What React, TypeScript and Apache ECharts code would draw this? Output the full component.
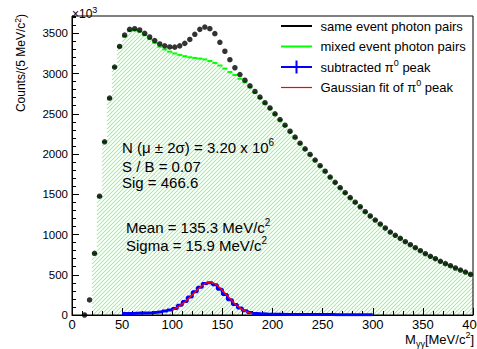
import React, { useEffect, useRef } from 'react';
import * as echarts from 'echarts';

const FONT = '"Liberation Sans", Arial, Helvetica, sans-serif';
const BIN_WIDTH = 5;

// same event photon pairs (x10^3 counts), bins starting at 10 MeV
const SAME_START = 10;
const sameEvent = [
  0, 187, 767, 1476, 2152, 2695, 3081, 3337, 3478, 3549,
  3557, 3541, 3500, 3454, 3410, 3368, 3344, 3331, 3328, 3344,
  3375, 3424, 3488, 3549, 3578, 3558, 3496, 3388, 3277, 3172,
  3072, 2988, 2917, 2847, 2778, 2708, 2638, 2572, 2500, 2428,
  2358, 2283, 2210, 2135, 2064, 1995, 1925, 1855, 1787, 1714,
  1648, 1582, 1520, 1458, 1402, 1345, 1283, 1230, 1180, 1130,
  1081, 1031, 990, 952, 911, 874, 836, 799, 762, 729,
  700, 667, 638, 612, 584, 559, 534, 506,
];

// mixed event photon pairs, bins starting at 20 MeV
const MIXED_START = 20;
const mixedEvent = [
  765, 1474, 2150, 2690, 3078, 3333, 3462, 3530, 3537, 3520,
  3476, 3428, 3382, 3334, 3300, 3272, 3250, 3232, 3216, 3202,
  3194, 3186, 3176, 3156, 3132, 3100, 3062, 3020, 2982, 2935,
  2890, 2830, 2762, 2695, 2628, 2565, 2494, 2421, 2351, 2277,
  2203, 2129, 2058, 1989, 1919, 1850, 1782, 1709, 1644, 1578,
  1516, 1455, 1399, 1342, 1280, 1227, 1177, 1128, 1079, 1029,
  988, 951, 910, 873, 835, 798, 761, 728, 699, 666,
  637, 611, 583, 558, 533, 505,
];

// subtracted pi0 peak, bins starting at 50 MeV
const SUB_START = 50;
const subtracted = [
  18, 20, 22, 24, 26, 29, 33, 40, 50, 62,
  82, 122, 168, 225, 288, 346, 392, 402, 375, 320,
  255, 190, 132, 86, 52, 30, 20, 14, 11, 9,
  8, 8, 7, 7, 6, 6, 6, 5, 5, 5,
  5, 5, 4, 4, 4, 4, 4, 4, 4, 4,
];

// Gaussian fit curve
const fitX = [100, 105, 110, 115, 120, 125, 130, 135, 140, 145, 150, 155, 160, 165, 170, 175, 180];
const fitY = [62, 95, 138, 190, 250, 313, 366, 400, 398, 365, 305, 240, 172, 112, 68, 38, 18];

const xTickLabels = [0, 50, 100, 150, 200, 250, 300, 350, 400];
const yTickLabels = [0, 500, 1000, 1500, 2000, 2500, 3000, 3500];

const legendItems = [
  { label: 'same event photon pairs', kind: 'same' },
  { label: 'mixed event photon pairs', kind: 'mixed' },
  { label: 'subtracted π0 peak', kind: 'sub' },
  { label: 'Gaussian fit of π0 peak', kind: 'fit' },
];

const statLines = [
  '{n|N (μ ± 2σ) = 3.20 x 10}{s|6}',
  '{n|S / B = 0.07}',
  '{n|Sig = 466.6}',
];
const fitLines = [
  '{n|Mean = 135.3 MeV/c}{s|2}',
  '{n|Sigma = 15.9 MeV/c}{s|2}',
];

const X_MIN = 0;
const X_MAX = 400;
const Y_MIN = 0;
const Y_MAX = 3715;

function richStyle(size: number, supSize: number, lh: number) {
  return {
    n: { fontSize: size, fontFamily: FONT, fill: '#000', lineHeight: lh, verticalAlign: 'middle' },
    s: { fontSize: supSize, fontFamily: FONT, fill: '#000', lineHeight: Math.round(lh / 2), verticalAlign: 'top' },
    b: { fontSize: supSize, fontFamily: FONT, fill: '#000', lineHeight: Math.round(lh / 2), verticalAlign: 'bottom' },
  };
}

const HATCH_STEP = 4;
const HATCH_FILL = '#9ce99c';
const HATCH_THICK = 1.3;

export default function App() {
  const ref = useRef<HTMLDivElement>(null);

  useEffect(() => {
    if (!ref.current) return;
    const chart = echarts.init(ref.current, null, { renderer: 'svg' });

    const samePts = sameEvent.map((v, i) => [SAME_START + BIN_WIDTH * (i + 0.5), v]);
    const mixedBins = mixedEvent.map((v, i) => [MIXED_START + BIN_WIDTH * i, MIXED_START + BIN_WIDTH * (i + 1), v]);
    const subEdges = subtracted.map((v, i) => [SUB_START + BIN_WIDTH * i, v]);
    subEdges.push([SUB_START + BIN_WIDTH * subtracted.length, subtracted[subtracted.length - 1]]);
    const fitPts = fitX.map((x, i) => [x, fitY[i]]);

    const legendRowsY = [26, 46.5, 67, 87.5];
    const baseGraphics: any[] = [];
    legendItems.forEach((it, i) => {
      const y = legendRowsY[i];
      const colors: Record<string, string> = { same: '#000000', mixed: '#00ff00', sub: '#0000ff', fit: '#ff0000' };
      const widths: Record<string, number> = { same: 2, mixed: 2, sub: 2, fit: 1.2 };
      baseGraphics.push({
        type: 'line', z: 10,
        shape: { x1: 281, y1: y, x2: 312, y2: y },
        style: { stroke: colors[it.kind], lineWidth: widths[it.kind] },
      });
      if (it.kind === 'sub') {
        baseGraphics.push({
          type: 'line', z: 10,
          shape: { x1: 296.5, y1: y - 6.5, x2: 296.5, y2: y + 6.5 },
          style: { stroke: colors[it.kind], lineWidth: 2 },
        });
      }
      const txt = it.label.includes('π0')
        ? it.label.split('π0').map((p, j, arr) => (j < arr.length - 1 ? `{n|${p}π}{s|0}` : `{n|${p}}`)).join('')
        : `{n|${it.label}}`;
      baseGraphics.push({
        type: 'text', z: 10,
        x: 320.5,
        y,
        style: { text: txt, rich: richStyle(13, 9, 18), align: 'left', verticalAlign: 'middle' },
      });
    });

    const statY = [147.3, 166.3, 182.8];
    const fitTY = [227.3, 245.3];

    baseGraphics.push(
      {
        type: 'text', x: 72, y: 13.5, z: 10,
        style: { text: '{n|×10}{s|3}', rich: richStyle(12, 9, 16), align: 'left', verticalAlign: 'middle' },
      },
      {
        type: 'text', x: 21, y: 14, rotation: Math.PI / 2, z: 10,
        style: { text: '{n|Counts/(5 MeV/c}{s|2}{n|)}', rich: richStyle(12, 8.5, 16), align: 'right', verticalAlign: 'middle' },
      },
      {
        type: 'text', x: 474, y: 339.5, z: 10,
        style: { text: '{n|M}{b|γγ}{n|[MeV/c}{s|2}{n|]}', rich: richStyle(13, 9, 18), align: 'right', verticalAlign: 'middle' },
      },
      ...statLines.map((t, i) => ({
        type: 'text', x: 122, y: statY[i], z: 10,
        style: { text: t, rich: richStyle(15, 10, 20), align: 'left', verticalAlign: 'middle' },
      })),
      ...fitLines.map((t, i) => ({
        type: 'text', x: 126, y: fitTY[i], z: 10,
        style: { text: t, rich: richStyle(15, 10, 20), align: 'left', verticalAlign: 'middle' },
      })),
    );

    const option: any = {
      animation: false,
      backgroundColor: '#ffffff',
      grid: {
        left: 72, right: 4, top: 16, bottom: 34,
        show: true, borderColor: '#000', borderWidth: 1, backgroundColor: 'transparent',
        containLabel: false, outerBoundsMode: 'none',
      },
      xAxis: [{
        type: 'value', min: X_MIN, max: X_MAX, interval: 50,
        axisLine: { show: true, onZero: false, lineStyle: { color: '#000', width: 1 } },
        axisTick: { show: true, inside: true, length: 7, lineStyle: { color: '#000', width: 1 } },
        minorTick: { show: true, splitNumber: 5, length: 4, lineStyle: { color: '#000', width: 1 } },
        splitLine: { show: false },
        minorSplitLine: { show: false },
        axisLabel: {
          color: '#000', fontSize: 13, fontFamily: FONT, margin: 3,
          formatter: (v: number) => (xTickLabels.includes(v) ? String(v) : ''),
          hideOverlap: false,
        },
      }],
      yAxis: [
        {
          type: 'value', min: Y_MIN, max: Y_MAX, interval: 500, position: 'left',
          axisLine: { show: true, onZero: false, lineStyle: { color: '#000', width: 1 } },
          axisTick: { show: true, inside: true, length: 7, lineStyle: { color: '#000', width: 1 } },
          splitLine: { show: false },
          axisLabel: {
            color: '#000', fontSize: 11.5, fontFamily: FONT, margin: 4, showMaxLabel: false,
            formatter: (v: number) => (yTickLabels.includes(v) ? String(v) : ''),
          },
        },
        {
          type: 'value', min: Y_MIN, max: Y_MAX, interval: 100, position: 'left', offset: 0,
          axisLine: { show: false },
          axisTick: { show: true, inside: true, length: 4, lineStyle: { color: '#000', width: 1 } },
          splitLine: { show: false },
          axisLabel: { show: false },
        },
      ],
      series: [
        {
          type: 'custom', data: mixedBins, silent: true, z: 2,
          encode: { x: [0, 1], y: 2 },
          renderItem: (params: any, api: any) => {
            const p1 = api.coord([api.value(0), api.value(2)]);
            const p2 = api.coord([api.value(1), api.value(2)]);
            return {
              type: 'line',
              shape: { x1: p1[0], y1: p1[1], x2: p2[0], y2: p2[1] },
              style: { stroke: '#00ff00', lineWidth: 2 },
            };
          },
        },
        {
          type: 'line', step: 'end', data: subEdges, symbol: 'none', showSymbol: false,
          lineStyle: { color: '#0000ff', width: 3 }, silent: true, z: 3,
        },
        {
          type: 'line', smooth: true, data: fitPts, symbol: 'none', showSymbol: false,
          lineStyle: { color: '#ff0000', width: 1.5 }, silent: true, z: 4,
        },
        {
          type: 'scatter', data: samePts, symbol: 'circle', symbolSize: 5.5,
          itemStyle: { color: '#000000' }, silent: true, z: 5,
        },
      ],
      graphic: baseGraphics,
    };

    chart.setOption(option);

    // hatched fill below the mixed-event histogram: thin filled stripes, placed through the chart's scales
    const toPx = (x: number, y: number) => chart.convertToPixel({ gridIndex: 0 }, [x, y]) as number[];
    const zeroY = toPx(0, 0)[1];
    const bins = mixedEvent.map((v, i) => {
      const a = toPx(MIXED_START + BIN_WIDTH * i, v);
      const b = toPx(MIXED_START + BIN_WIDTH * (i + 1), v);
      return { a: a[0], b: b[0], t: a[1] };
    });
    const x0 = bins[0].a;
    const x1 = bins[bins.length - 1].b;
    const minT = Math.min(...bins.map((b) => b.t));
    const hatch: any[] = [];
    const h = HATCH_THICK / 2;
    const push = (s: number, e: number, k: number) => {
      hatch.push({
        type: 'polygon', z: -1, silent: true,
        shape: {
          points: [
            [s - h, k - s],
            [e - h, k - e],
            [e + h, k - e],
            [s + h, k - s],
          ],
        },
        style: { fill: HATCH_FILL, stroke: 'none', lineWidth: 0 },
      });
    };
    const kStart = Math.floor((x0 + minT) / HATCH_STEP) * HATCH_STEP;
    const kEnd = x1 + zeroY;
    for (let k = kStart; k <= kEnd; k += HATCH_STEP) {
      let s: number | null = null;
      let e = 0;
      for (const bn of bins) {
        const lo = Math.max(bn.a, k - zeroY);
        const hi = Math.min(bn.b, k - bn.t);
        if (hi > lo) {
          if (s !== null && Math.abs(lo - e) < 0.01) {
            e = hi;
          } else {
            if (s !== null) push(s, e, k);
            s = lo;
            e = hi;
          }
        }
      }
      if (s !== null) push(s, e, k);
    }
    chart.setOption({ graphic: [...baseGraphics, ...hatch] });

    return () => chart.dispose();
  }, []);

  return (
    <div
      ref={ref}
      style={{ position: 'absolute', left: 0, top: 0, width: 477, height: 349, background: '#fff' }}
    />
  );
}
